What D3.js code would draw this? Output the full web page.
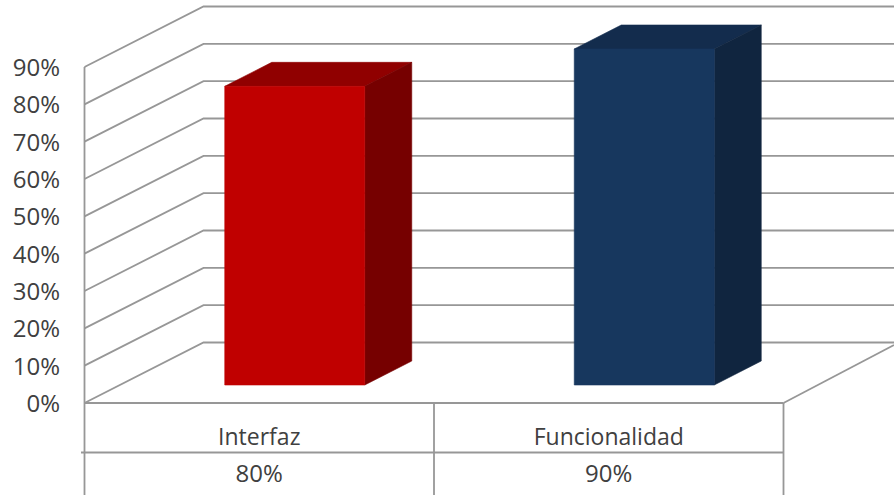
<!DOCTYPE html>
<html>
<head>
<meta charset="utf-8">
<script src="https://cdn.jsdelivr.net/npm/d3@7"></script>
<style>
  html, body { margin: 0; padding: 0; background: #fff; }
  svg { display: block; }
  text { font-family: "Open Sans", "Noto Sans", sans-serif; fill: #404040; }
</style>
</head>
<body>
<svg id="chart" width="894" height="495"></svg>
<script>
const categories = ["Interfaz", "Funcionalidad"];
const values = [80, 90];
const valueLabels = ["80%", "90%"];
const tickValues = [0, 10, 20, 30, 40, 50, 60, 70, 80, 90];
const frontColors = ["#c00000", "#17375e"];
const topColors = ["#900000", "#132c4d"];
const sideColors = ["#760000", "#10253f"];

const svg = d3.select("#chart");
const gridColor = "#979797";

// Oblique projection: the wall sits behind the front plane, bars stand mid-floor.
const wallShift = { dx: 119, dy: -60.5 };
const barShift = { dx: 35.5, dy: -18 };
const barDepth = { dx: 47, dy: -24 };

const y = d3.scaleLinear().domain([0, 90]).range([403, 67]);
const x = d3.scaleBand().domain(categories).range([84.5, 783.5]);
const barWidth = 140;

const line = d3.line();
const grid = svg.append("g").attr("fill", "none").attr("stroke", gridColor).attr("stroke-width", 1.8);

// Gridlines fold from the front edge onto the back wall and run off to the right.
grid.selectAll("path.grid")
  .data(tickValues)
  .join("path")
  .attr("class", "grid")
  .attr("d", d => line([
    [x.range()[0], y(d)],
    [x.range()[0] + wallShift.dx, y(d) + wallShift.dy],
    [894, y(d) + wallShift.dy]
  ]));

// Vertical axis line
grid.append("path").attr("d", line([[x.range()[0], y(90)], [x.range()[0], 495]]));

// Floor's right edge
grid.append("path").attr("d", line([[x.range()[1], y(0)], [894, y(0) - 58]]));

// Data table rules
const rowA = 403, rowB = 452.5;
grid.append("path").attr("d", line([[x.range()[0], rowA], [x.range()[1], rowA]]));
grid.append("path").attr("d", line([[81, rowB], [x.range()[1], rowB]]));
grid.selectAll("path.col")
  .data([x.range()[0] + x.bandwidth(), x.range()[1]])
  .join("path")
  .attr("class", "col")
  .attr("d", d => line([[d, rowA], [d, 495]]));

// Bars: front, top and side faces; a hairline stroke closes the seams between faces
const bars = svg.append("g").selectAll("g")
  .data(categories)
  .join("g");

bars.each(function (c, i) {
  const g = d3.select(this);
  const left = x(c) + (x.bandwidth() - barWidth) / 2 + barShift.dx;
  const right = left + barWidth;
  const top = y(values[i]) + barShift.dy;
  const base = y(0) + barShift.dy;
  const poly = (pts, fill) => g.append("polygon")
    .attr("points", pts.map(p => p.join(",")).join(" "))
    .attr("fill", fill)
    .attr("stroke", fill)
    .attr("stroke-width", 0.6);
  poly([[left, top], [right, top], [right + barDepth.dx, top + barDepth.dy], [left + barDepth.dx, top + barDepth.dy]], topColors[i]);
  poly([[right, top], [right + barDepth.dx, top + barDepth.dy], [right + barDepth.dx, base + barDepth.dy], [right, base]], sideColors[i]);
  poly([[left, top], [right, top], [right, base], [left, base]], frontColors[i]);
});

// Value axis labels
svg.append("g").selectAll("text")
  .data(tickValues)
  .join("text")
  .attr("x", 60)
  .attr("y", d => y(d) + 9)
  .attr("text-anchor", "end")
  .attr("font-size", 24)
  .text(d => d + "%");

// Data table text
const cells = svg.append("g").attr("text-anchor", "middle");
cells.selectAll("text.cat")
  .data(categories)
  .join("text")
  .attr("class", "cat")
  .attr("x", d => x(d) + x.bandwidth() / 2)
  .attr("y", 445)
  .attr("font-size", 23)
  .text(d => d);
cells.selectAll("text.val")
  .data(valueLabels)
  .join("text")
  .attr("class", "val")
  .attr("x", (d, i) => x(categories[i]) + x.bandwidth() / 2)
  .attr("y", 482)
  .attr("font-size", 24)
  .text(d => d);
</script>
</body>
</html>
